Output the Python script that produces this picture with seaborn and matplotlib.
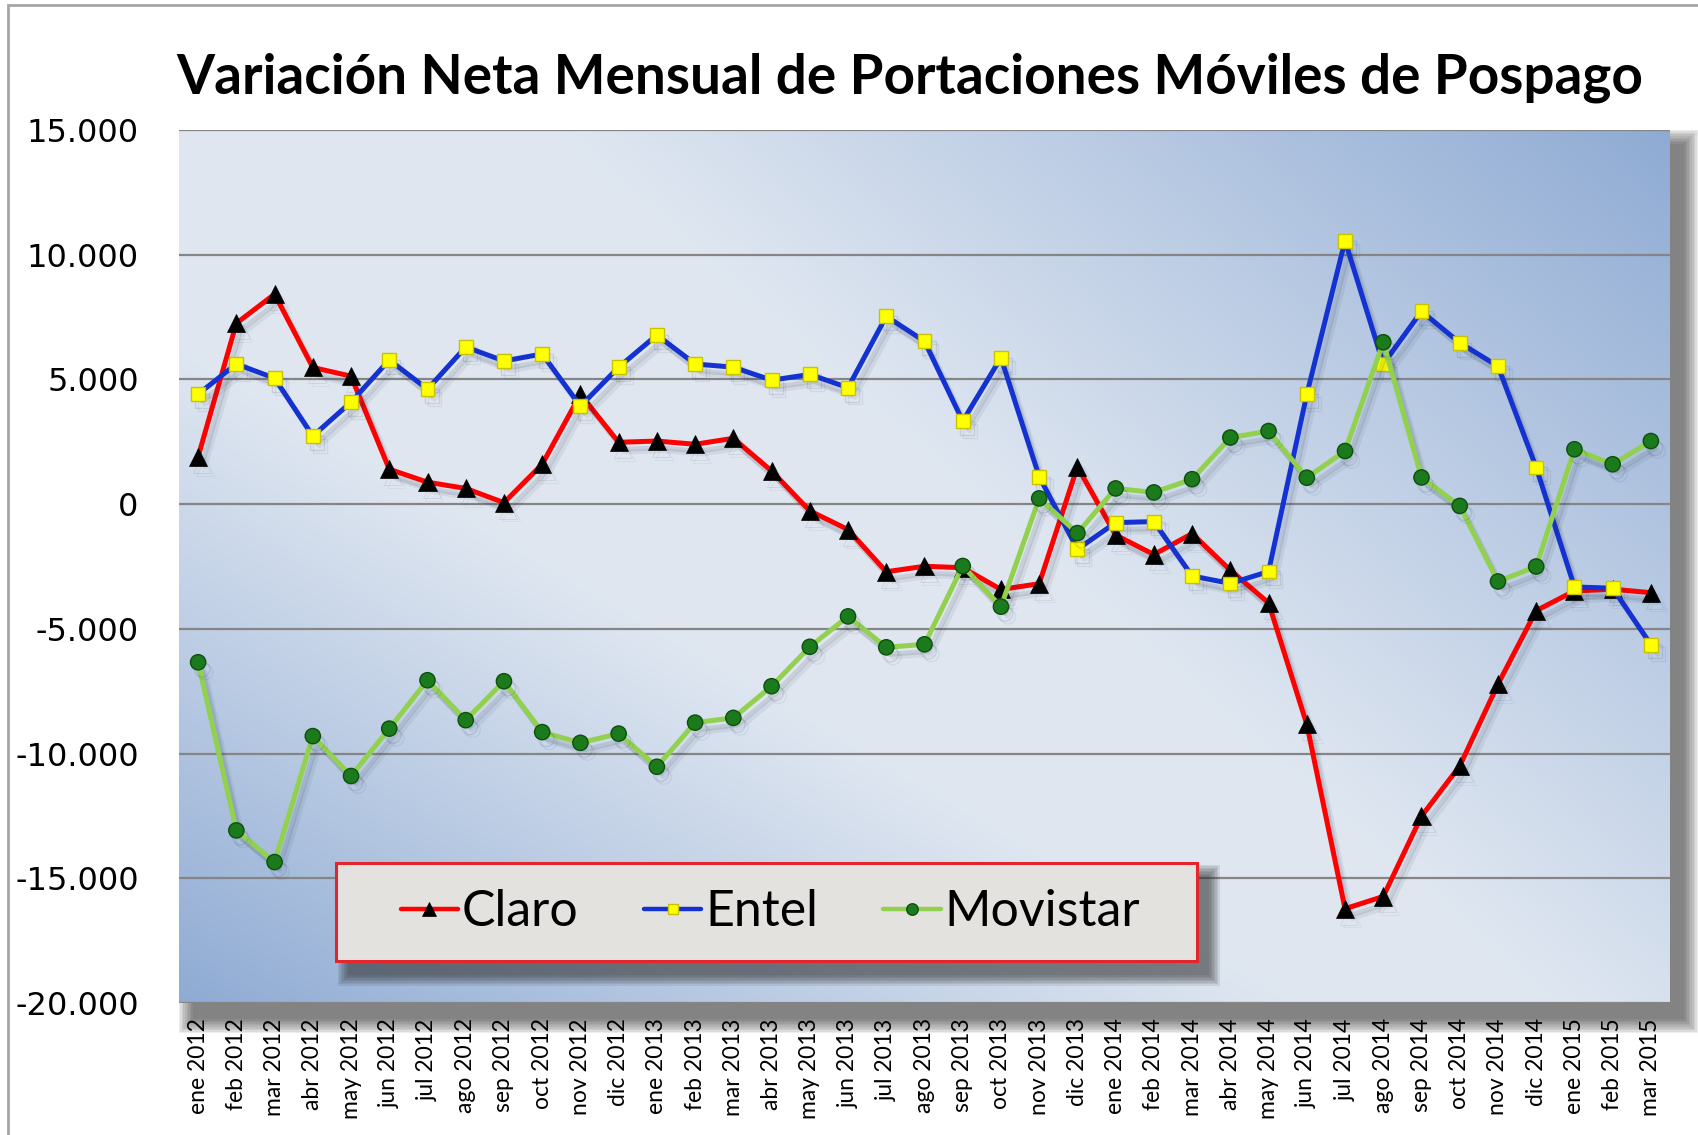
import numpy as np
import pandas as pd
import matplotlib
matplotlib.use("Agg")
import matplotlib.pyplot as plt
import seaborn as sns
from matplotlib.patches import Rectangle
from matplotlib.ticker import FuncFormatter, FixedLocator
import matplotlib.patheffects as pe
from matplotlib.lines import Line2D

# ---------------- data ----------------
meses = ["ene 2012", "feb 2012", "mar 2012", "abr 2012", "may 2012", "jun 2012",
         "jul 2012", "ago 2012", "sep 2012", "oct 2012", "nov 2012", "dic 2012",
         "ene 2013", "feb 2013", "mar 2013", "abr 2013", "may 2013", "jun 2013",
         "jul 2013", "ago 2013", "sep 2013", "oct 2013", "nov 2013", "dic 2013",
         "ene 2014", "feb 2014", "mar 2014", "abr 2014", "may 2014", "jun 2014",
         "jul 2014", "ago 2014", "sep 2014", "oct 2014", "nov 2014", "dic 2014",
         "ene 2015", "feb 2015", "mar 2015"]

claro = [1900, 7250, 8420, 5480, 5130, 1400, 880, 630, 60, 1600, 4400, 2480,
         2530, 2400, 2640, 1330, -270, -1020, -2710, -2490, -2550, -3420, -3190, 1500,
         -1240, -2020, -1180, -2650, -3960, -8830, -16220, -15730, -12510, -10500, -7220, -4270,
         -3480, -3410, -3550]

entel = [4410, 5620, 5050, 2730, 4090, 5780, 4610, 6300, 5740, 6020, 3930, 5490,
         6780, 5620, 5490, 4970, 5200, 4670, 7530, 6530, 3330, 5870, 1100, -1810,
         -740, -700, -2880, -3180, -2700, 4400, 10560, 5620, 7730, 6470, 5530, 1470,
         -3320, -3370, -5630]

movistar = [-6340, -13080, -14350, -9300, -10900, -9000, -7060, -8660, -7100, -9140, -9570, -9200,
            -10530, -8760, -8570, -7300, -5720, -4500, -5740, -5620, -2480, -4110, 230, -1160,
            630, 470, 1000, 2670, 2930, 1060, 2130, 6490, 1070, -70, -3100, -2500,
            2200, 1600, 2530]

series_names = ["Claro", "Entel", "Movistar"]
y_ticks = [15000, 10000, 5000, 0, -5000, -10000, -15000, -20000]
titulo = "Variación Neta Mensual de Portaciones Móviles de Pospago"

# ---------------- style ----------------
sns.set_theme(style="white")
plt.rcParams['font.family'] = ['Lato', 'DejaVu Sans']
plt.rcParams['text.color'] = 'black'

W, H = 1698, 1135
fig = plt.figure(figsize=(W / 100, H / 100), dpi=100)
fig.patch.set_facecolor('white')

# outer frame (left / top border visible)
fig.patches.append(Rectangle((8 / W, -0.05), 1.2, 1 - 5 / H + 0.05, transform=fig.transFigure,
                             fill=False, edgecolor='#a6a6a6', lw=2, zorder=-5))

L, R, T, B = 179, 1670, 130, 1003


def fig_rect(x0, y0, x1, y1, **kw):
    return Rectangle((x0 / W, 1 - y1 / H), (x1 - x0) / W, (y1 - y0) / H,
                     transform=fig.transFigure, **kw)


# soft drop shadow of plot area
for k in range(10):
    b = k * 1.6
    fig.patches.append(fig_rect(L + 14 - b, T + 14 - b, R + 14 + b, B + 16 + b,
                                facecolor='#3a3a3a', edgecolor='none', alpha=0.09, zorder=-2))

ax = fig.add_axes([L / W, 1 - B / H, (R - L) / W, (B - T) / H])
ax.set_zorder(1)

# gradient background
ny, nx = 300, 500
xx, yy = np.meshgrid(np.linspace(0, 1, nx), np.linspace(1, 0, ny))
tr = np.clip((xx * 0.6 + yy * 0.4 - 0.55) / 0.45, 0, 1)
bl = np.clip((0.68 - (xx * 0.9 + yy * 0.9)) / 0.68, 0, 1)
f = np.maximum(tr, bl) ** 1.05
light = np.array([0.875, 0.905, 0.945])
dark = np.array([0.56, 0.67, 0.83])
img = light + (dark - light) * f[..., None]
ax.imshow(img, extent=(0, 1, 0, 1), transform=ax.transAxes, aspect='auto',
          zorder=0, interpolation='bilinear')

df = pd.DataFrame({'idx': np.arange(len(meses)), 'Claro': claro,
                   'Entel': entel, 'Movistar': movistar})

shadow = [pe.SimpleLineShadow(offset=(3, -5), shadow_color='#1a2a40', alpha=0.12),
          pe.SimpleLineShadow(offset=(5, -7), shadow_color='#1a2a40', alpha=0.07),
          pe.Normal()]

styles = {
    'Claro': dict(color='#ff0000', marker='^', markersize=13, markerfacecolor='black',
                  markeredgecolor='black', markeredgewidth=0.5),
    'Entel': dict(color='#1432d2', marker='s', markersize=10, markerfacecolor='#ffff00',
                  markeredgecolor='#c9c200', markeredgewidth=1.0),
    'Movistar': dict(color='#92d050', marker='o', markersize=11, markerfacecolor='#1b7a1b',
                     markeredgecolor='#0d4f0d', markeredgewidth=1.0),
}

for i, name in enumerate(series_names):
    sns.lineplot(data=df, x='idx', y=name, ax=ax, lw=3.6, zorder=3 + i,
                 path_effects=shadow, legend=False, **styles[name])

ax.set_xlim(-0.5, len(meses) - 0.5)
ax.set_ylim(-20000, 15000)
ax.set_xlabel('')
ax.set_ylabel('')

ax.yaxis.set_major_locator(FixedLocator(y_ticks))
ax.yaxis.set_major_formatter(FuncFormatter(lambda v, p: f"{int(v):,}".replace(",", ".")))
ax.set_xticks(np.arange(len(meses)))
ax.set_xticklabels(meses, rotation=90, fontsize=16.5, family=['Lato', 'DejaVu Sans'])
for lab in ax.get_yticklabels():
    lab.set_fontsize(23)
    lab.set_family(['DejaVu Sans'])
ax.tick_params(axis='y', length=0, pad=29, colors='black')
ax.tick_params(axis='x', length=0, pad=11, colors='black')

ax.grid(False)
ax.yaxis.grid(True, color='#858585', lw=1.6)
ax.set_axisbelow(True)
for s in ax.spines.values():
    s.set_visible(False)

# title
fig.text(910 / W, 1 - 78 / H, titulo, ha='center', va='center', fontsize=39.5,
         fontweight='bold', color='black',
         family=['Liberation Sans Narrow', 'Lato', 'DejaVu Sans'])

# legend box with shadow
lx0, ly0, lx1, ly1 = 336, 863, 1197, 961
for k in range(8):
    b = k * 1.5
    fig.patches.append(fig_rect(lx0 + 12 - b, ly0 + 12 - b, lx1 + 12 + b, ly1 + 14 + b,
                                facecolor='#303030', edgecolor='none', alpha=0.10, zorder=4))
fig.patches.append(fig_rect(lx0, ly0, lx1, ly1, facecolor='#e4e2df',
                            edgecolor='#e3262b', lw=2.2, zorder=5))

handles = [Line2D([], [], lw=3.2, **{**styles[n], 'markersize': styles[n]['markersize'] * 0.75})
           for n in series_names]
leg = fig.legend(handles, series_names, loc='center',
                 bbox_to_anchor=((lx0 + lx1) / 2 / W + 4 / W, 1 - (ly0 + ly1) / 2 / H),
                 ncol=3, frameon=False, handlelength=1.15,
                 handletextpad=0.08, columnspacing=1.3,
                 prop={'family': ['Lato', 'DejaVu Sans'], 'size': 36})
for t in leg.get_texts():
    t.set_color('black')
leg.set_zorder(6)

fig.savefig('out.png', dpi=100, facecolor='white')
